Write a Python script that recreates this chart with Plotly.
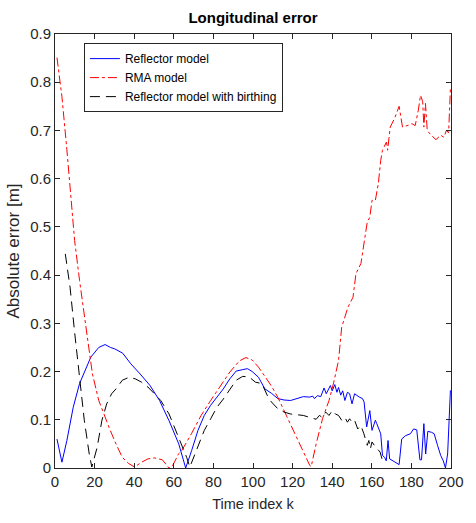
import plotly.graph_objects as go

# Reflector model error
k_reflector = [1, 3.5, 6, 9.2, 12.4, 15.6, 18.1, 22.1, 25.3, 28, 30.2, 34.2, 38.3, 43, 48, 52.8,
               57.6, 62.5, 66, 69, 72.2, 75.4, 78.6, 81.8, 85, 88.3, 91.5, 94.8, 97.2, 99.6,
               102.8, 106, 109.3, 112.5, 115.7, 119, 122.2, 125.4, 128.6, 130.2, 131, 132.6,
               134.2, 135.9, 137, 138, 139.1, 140, 141.3, 142.4, 143.2, 144.3, 145.3, 146.4,
               147.7, 148.8, 150, 151.3, 152.6, 153.7, 155.3, 156.1, 157.4, 159, 160.1, 161.8,
               162.5, 163.6, 164.5, 165.4, 166.5, 167.3, 168.2, 169, 170.6, 172.3, 173.8,
               175.1, 177, 179.5, 181.1, 182.7, 184.3, 185.1, 186.3, 187.2, 188.3, 190.2,
               191.5, 193.2, 194.8, 196.1, 197.2, 198.3, 199.7]
err_reflector = [0.06, 0.012, 0.057, 0.126, 0.175, 0.206, 0.23, 0.25, 0.256, 0.25, 0.247,
                 0.238, 0.216, 0.195, 0.171, 0.14, 0.098, 0.05, 0.0, 0.036, 0.078, 0.109, 0.13,
                 0.147, 0.164, 0.185, 0.201, 0.204, 0.206, 0.2, 0.188, 0.164, 0.155, 0.144,
                 0.141, 0.14, 0.144, 0.148, 0.147, 0.149, 0.144, 0.15, 0.148, 0.166, 0.154,
                 0.163, 0.171, 0.16, 0.173, 0.157, 0.167, 0.151, 0.16, 0.14, 0.157, 0.154,
                 0.133, 0.154, 0.15, 0.147, 0.144, 0.137, 0.085, 0.119, 0.078, 0.099, 0.092,
                 0.078, 0.071, 0.026, 0.022, 0.015, 0.057, 0.019, 0.015, 0.01, 0.007, 0.06,
                 0.067, 0.071, 0.081, 0.079, 0.017, 0.017, 0.092, 0.029, 0.076, 0.074, 0.071,
                 0.047, 0.026, 0.015, 0.0, 0.029, 0.161]

# RMA model error
k_rma = [1, 3.5, 6, 8, 9.9, 12.4, 14.8, 17.3, 18.9, 22.1, 25.3, 27.7, 30.8, 34, 37.3, 40.2,
         43.7, 47, 50.2, 54.2, 57.6, 59.2, 62.5, 64, 68.9, 73.8, 78.6, 83.4, 88.3, 93.1, 96.4,
         99.6, 102.8, 106, 109.3, 112.5, 115.7, 119, 122.2, 125.4, 128.7, 129.4, 131.9, 135.1,
         138.4, 140.8, 143.2, 144.8, 148, 150.5, 152, 154.5, 156, 157.7, 159, 160.1, 161.8,
         163.3, 164.5, 165.4, 167.4, 168, 169.3, 171.4, 173.8, 175.5, 177.8, 180.3, 181.9,
         183.5, 184.6, 185.7, 186.3, 187.1, 188, 190, 192.4, 194.8, 196.4, 197.7, 198.8, 199.7]
err_rma = [0.851, 0.77, 0.66, 0.555, 0.472, 0.389, 0.313, 0.237, 0.195, 0.14, 0.105, 0.08,
           0.05, 0.022, 0.009, 0.002, 0.012, 0.019, 0.021, 0.017, 0.0, 0.003, 0.03, 0.036,
           0.071, 0.109, 0.14, 0.168, 0.199, 0.222, 0.229, 0.224, 0.209, 0.19, 0.17, 0.147,
           0.119, 0.092, 0.064, 0.036, 0.005, 0.003, 0.05, 0.102, 0.14, 0.178, 0.223, 0.292,
           0.334, 0.354, 0.403, 0.424, 0.465, 0.51, 0.52, 0.555, 0.555, 0.59, 0.638, 0.659,
           0.676, 0.659, 0.707, 0.724, 0.75, 0.707, 0.71, 0.714, 0.71, 0.742, 0.773, 0.76,
           0.707, 0.756, 0.70, 0.69, 0.681, 0.69, 0.686, 0.70, 0.695, 0.787]

# Reflector model with birthing error
k_birth = [5.2, 7.6, 10, 12.4, 14.8, 17.3, 18.6, 21.3, 23.7, 26.1, 28.6, 30.8, 34, 37.3,
           40.5, 43.7, 46.9, 50.2, 53.4, 57.6, 62.5, 66.5, 68.1, 72.2, 75.4, 78.6, 81.8, 85,
           88.3, 91.5, 94.8, 98, 101.2, 104.5, 107.6, 109.3, 112.5, 115.7, 119, 122.2, 125.4,
           128.6, 131.9, 133.5, 135.1, 136.7, 138.4, 140, 141.6, 143.2, 144.8, 146.4, 147.7,
           148.8, 150, 151.3, 152.9, 154.5, 156, 157.7, 158.5, 159.3, 160.1, 161.3, 164.2,
           165.8]
err_birth = [0.444, 0.375, 0.278, 0.182, 0.099, 0.029, 0.002, 0.043, 0.099, 0.133, 0.154,
             0.164, 0.182, 0.188, 0.185, 0.178, 0.168, 0.154, 0.14, 0.112, 0.064, 0.022,
             0.002, 0.043, 0.078, 0.102, 0.126, 0.143, 0.164, 0.182, 0.19, 0.189, 0.178,
             0.175, 0.147, 0.137, 0.123, 0.116, 0.112, 0.111, 0.109, 0.105, 0.101, 0.109,
             0.105, 0.116, 0.109, 0.119, 0.112, 0.109, 0.099, 0.105, 0.095, 0.102, 0.095,
             0.099, 0.081, 0.088, 0.071, 0.047, 0.057, 0.04, 0.054, 0.047, 0.033, 0.009]

x_ticks = [0, 20, 40, 60, 80, 100, 120, 140, 160, 180, 200]
y_ticks = [0, 0.1, 0.2, 0.3, 0.4, 0.5, 0.6, 0.7, 0.8, 0.9]

FONT = "Liberation Sans, Arial, sans-serif"
AXIS_COLOR = "#262626"

fig = go.Figure()
fig.add_trace(go.Scatter(x=k_reflector, y=err_reflector, mode="lines", name="Reflector model",
                         line=dict(color="#0000ff", width=1)))
fig.add_trace(go.Scatter(x=k_rma, y=err_rma, mode="lines", name="RMA model",
                         line=dict(color="#ff0000", width=1, dash="dashdot")))
fig.add_trace(go.Scatter(x=k_birth, y=err_birth, mode="lines", name="Reflector model with birthing",
                         line=dict(color="#000000", width=1, dash="10px,6px")))

axis_common = dict(showgrid=False, zeroline=False, showline=True, linecolor=AXIS_COLOR,
                   linewidth=1, mirror="ticks", ticks="inside", ticklen=5, tickwidth=1,
                   tickcolor=AXIS_COLOR, tickfont=dict(family=FONT, size=15, color=AXIS_COLOR))

fig.update_xaxes(range=[0, 200], tickvals=x_ticks, **axis_common,
                 title=dict(text="Time index k", font=dict(family=FONT, size=14.5, color=AXIS_COLOR),
                            standoff=9))
fig.update_yaxes(range=[0, 0.9], tickvals=y_ticks, **axis_common,
                 title=dict(text="Absolute error [m]", font=dict(family=FONT, size=17, color=AXIS_COLOR),
                            standoff=6))

fig.update_layout(
    width=476, height=523,
    margin=dict(l=51, r=12, t=34, b=55),
    paper_bgcolor="white", plot_bgcolor="white",
    title=dict(text="<b>Longitudinal error</b>", xref="paper", x=0.5, xanchor="center",
               y=0.966, yanchor="middle",
               font=dict(family=FONT, size=15, color="#000000")),
    legend=dict(x=0.073, y=0.979, xanchor="left", yanchor="top", bgcolor="white",
                bordercolor=AXIS_COLOR, borderwidth=1,
                font=dict(family=FONT, size=12, color="#000000"), itemwidth=30,
                tracegroupgap=0),
    showlegend=True,
)

fig.write_html("out.html")
